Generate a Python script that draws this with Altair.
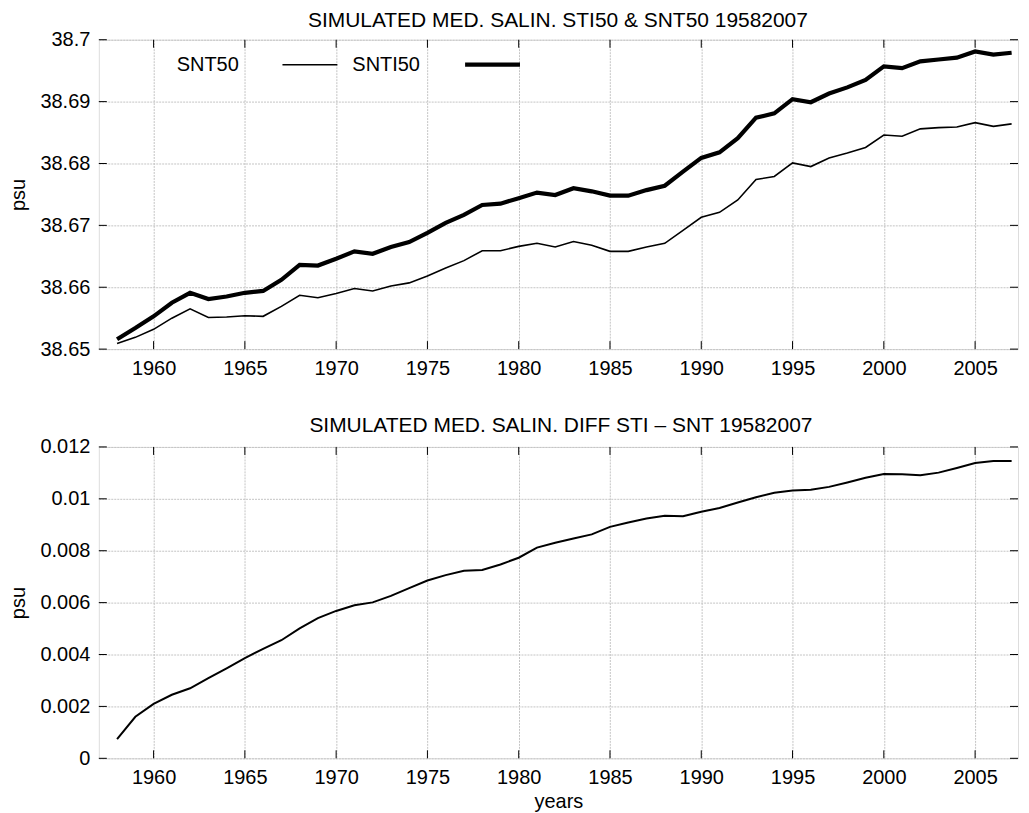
import altair as alt
import pandas as pd

years = list(range(1958, 2008))

snt50 = [38.6509, 38.6519, 38.6532, 38.6550, 38.6565, 38.6551, 38.6552, 38.6554, 38.6553, 38.6569,
         38.6587, 38.6583, 38.6590, 38.6598, 38.6594, 38.6602, 38.6607, 38.6618, 38.6631, 38.6643,
         38.6659, 38.6659, 38.6666, 38.6671, 38.6665, 38.6674, 38.6668, 38.6658, 38.6658, 38.6665,
         38.6671, 38.6692, 38.6713, 38.6721, 38.6741, 38.6774, 38.6779, 38.6801, 38.6795, 38.6809,
         38.6817, 38.6826, 38.6846, 38.6844, 38.6856, 38.6858, 38.6859, 38.6866, 38.6860, 38.6864]

snti50 = [38.6516, 38.6534, 38.6553, 38.6575, 38.6591, 38.6581, 38.6585, 38.6591, 38.6594, 38.6612,
          38.6636, 38.6635, 38.6646, 38.6658, 38.6654, 38.6665, 38.6673, 38.6688, 38.6704, 38.6717,
          38.6733, 38.6735, 38.6744, 38.6753, 38.6749, 38.6760, 38.6755, 38.6748, 38.6748, 38.6757,
          38.6764, 38.6787, 38.6809, 38.6818, 38.6841, 38.6874, 38.6881, 38.6904, 38.6899, 38.6913,
          38.6923, 38.6935, 38.6957, 38.6954, 38.6965, 38.6968, 38.6971, 38.6981, 38.6976, 38.6979]

diff = [0.00074, 0.00160, 0.00210, 0.00245, 0.00270, 0.00309, 0.00347, 0.00386, 0.00422, 0.00455,
        0.00501, 0.00540, 0.00568, 0.00590, 0.00601, 0.00626, 0.00656, 0.00685, 0.00706, 0.00723,
        0.00726, 0.00747, 0.00773, 0.00812, 0.00831, 0.00847, 0.00863, 0.00892, 0.00909, 0.00924,
        0.00935, 0.00933, 0.00950, 0.00965, 0.00986, 0.01006, 0.01023, 0.01032, 0.01035, 0.01046,
        0.01063, 0.01081, 0.01096, 0.01095, 0.01091, 0.01101, 0.01119, 0.01138, 0.01146, 0.01146]

x_ticks = [1960, 1965, 1970, 1975, 1980, 1985, 1990, 1995, 2000, 2005]
y_ticks_top = [38.65, 38.66, 38.67, 38.68, 38.69, 38.70]
y_ticks_bot = [0, 0.002, 0.004, 0.006, 0.008, 0.010, 0.012]

title_top = "SIMULATED MED. SALIN.  STI50 & SNT50 19582007"
title_bot = "SIMULATED MED. SALIN. DIFF STI \u2013 SNT 19582007"
legend_labels = ["SNT50", "SNTI50"]

FONT = "Liberation Sans"
FS = 20
TFS = 21
W = 921
H1 = 310
H2 = 312
TICK = 8

x_scale = alt.Scale(domain=[1957, 2007.35], nice=False, zero=False)


def x_axis(title=None):
    kw = dict(values=x_ticks, format="d", tickSize=0, labelPadding=9, grid=True,
              gridColor="#c4c4c4", gridDash=[2, 1], gridWidth=1, domain=False,
              labelFontSize=FS, labelFont=FONT, labelColor="black",
              labelFlush=False, labelOverlap=False)
    if title:
        kw.update(title=title, titleFontSize=FS, titleFont=FONT, titleFontWeight="normal",
                  titleColor="black", titlePadding=4)
    else:
        kw.update(title=None)
    return alt.Axis(**kw)


def y_axis(values, fmt):
    return alt.Axis(values=values, format=fmt, tickSize=0, labelPadding=9, grid=True,
                    gridColor="#c4c4c4", gridDash=[2, 1], gridWidth=1, domain=False,
                    labelFontSize=FS, labelFont=FONT, labelColor="black",
                    labelFlush=False, labelOverlap=False,
                    title="psu", titleFontSize=FS, titleFont=FONT, titleFontWeight="normal",
                    titleColor="black", titlePadding=10, minExtent=60, maxExtent=60)


def tick_layers(xax, yax, y_scale, yvals, height):
    xt = pd.DataFrame({"year": x_ticks})
    yt = pd.DataFrame({"v": yvals})
    top = alt.Chart(xt).mark_rule(color="black", strokeWidth=1).encode(
        x=alt.X("year:Q", scale=x_scale, axis=xax), y=alt.value(0), y2=alt.value(TICK))
    bot = alt.Chart(xt).mark_rule(color="black", strokeWidth=1).encode(
        x=alt.X("year:Q", scale=x_scale, axis=xax), y=alt.value(height), y2=alt.value(height - TICK))
    left = alt.Chart(yt).mark_rule(color="black", strokeWidth=1).encode(
        y=alt.Y("v:Q", scale=y_scale, axis=yax), x=alt.value(0), x2=alt.value(TICK))
    right = alt.Chart(yt).mark_rule(color="black", strokeWidth=1).encode(
        y=alt.Y("v:Q", scale=y_scale, axis=yax), x=alt.value(W), x2=alt.value(W - TICK))
    return [top, bot, left, right]


def title_layer(text, cx, cy):
    return alt.Chart(pd.DataFrame({"t": [text]})).mark_text(
        align="center", baseline="middle", fontSize=TFS, font=FONT, color="black").encode(
        text="t:N", x=alt.value(cx), y=alt.value(cy))


# ---------- top panel ----------
df_top = pd.DataFrame({"year": years, "snt50": snt50, "snti50": snti50})
y_scale_top = alt.Scale(domain=[38.65, 38.70], nice=False, zero=False)
xax_top = x_axis()
yax_top = y_axis(y_ticks_top, ".2~f")

thin = alt.Chart(df_top).mark_line(color="black", strokeWidth=1.6).encode(
    x=alt.X("year:Q", scale=x_scale, axis=xax_top),
    y=alt.Y("snt50:Q", scale=y_scale_top, axis=yax_top),
)
thick = alt.Chart(df_top).mark_line(color="black", strokeWidth=4.2).encode(
    x=alt.X("year:Q", scale=x_scale, axis=xax_top),
    y=alt.Y("snti50:Q", scale=y_scale_top, axis=yax_top),
)

leg1 = alt.Chart(pd.DataFrame({"label": [legend_labels[0]]})).mark_text(
    align="left", baseline="middle", fontSize=FS, font=FONT, color="black").encode(
    text="label:N", x=alt.value(78), y=alt.value(25))
leg2 = alt.Chart(pd.DataFrame({"label": [legend_labels[1]]})).mark_text(
    align="left", baseline="middle", fontSize=FS, font=FONT, color="black").encode(
    text="label:N", x=alt.value(254), y=alt.value(25))
leg_line1 = alt.Chart(pd.DataFrame({"label": [legend_labels[0]]})).mark_rule(
    color="black", strokeWidth=1.6).encode(x=alt.value(184), x2=alt.value(239), y=alt.value(25))
leg_line2 = alt.Chart(pd.DataFrame({"label": [legend_labels[1]]})).mark_rule(
    color="black", strokeWidth=4.2).encode(x=alt.value(367), x2=alt.value(422), y=alt.value(25))

top_chart = alt.layer(
    thin, thick, *tick_layers(xax_top, yax_top, y_scale_top, y_ticks_top, H1),
    leg1, leg2, leg_line1, leg_line2, title_layer(title_top, 460, -19)
).properties(width=W, height=H1)

# ---------- bottom panel ----------
df_bot = pd.DataFrame({"year": years, "diff": diff})
y_scale_bot = alt.Scale(domain=[0, 0.012], nice=False, zero=False)
xax_bot = x_axis("years")
yax_bot = y_axis(y_ticks_bot, ".3~f")

diff_line = alt.Chart(df_bot).mark_line(color="black", strokeWidth=2).encode(
    x=alt.X("year:Q", scale=x_scale, axis=xax_bot),
    y=alt.Y("diff:Q", scale=y_scale_bot, axis=yax_bot),
)

bot_chart = alt.layer(
    diff_line, *tick_layers(xax_bot, yax_bot, y_scale_bot, y_ticks_bot, H2),
    title_layer(title_bot, 463, -21)
).properties(width=W, height=H2)

chart = alt.vconcat(top_chart, bot_chart, spacing=35).properties(
    padding={"left": 0, "top": 0, "right": 0, "bottom": 0}
).configure_view(
    stroke="black", strokeWidth=1
).configure(
    background="white"
)

chart.save("out.html", embed_options={"renderer": "svg", "actions": False})
